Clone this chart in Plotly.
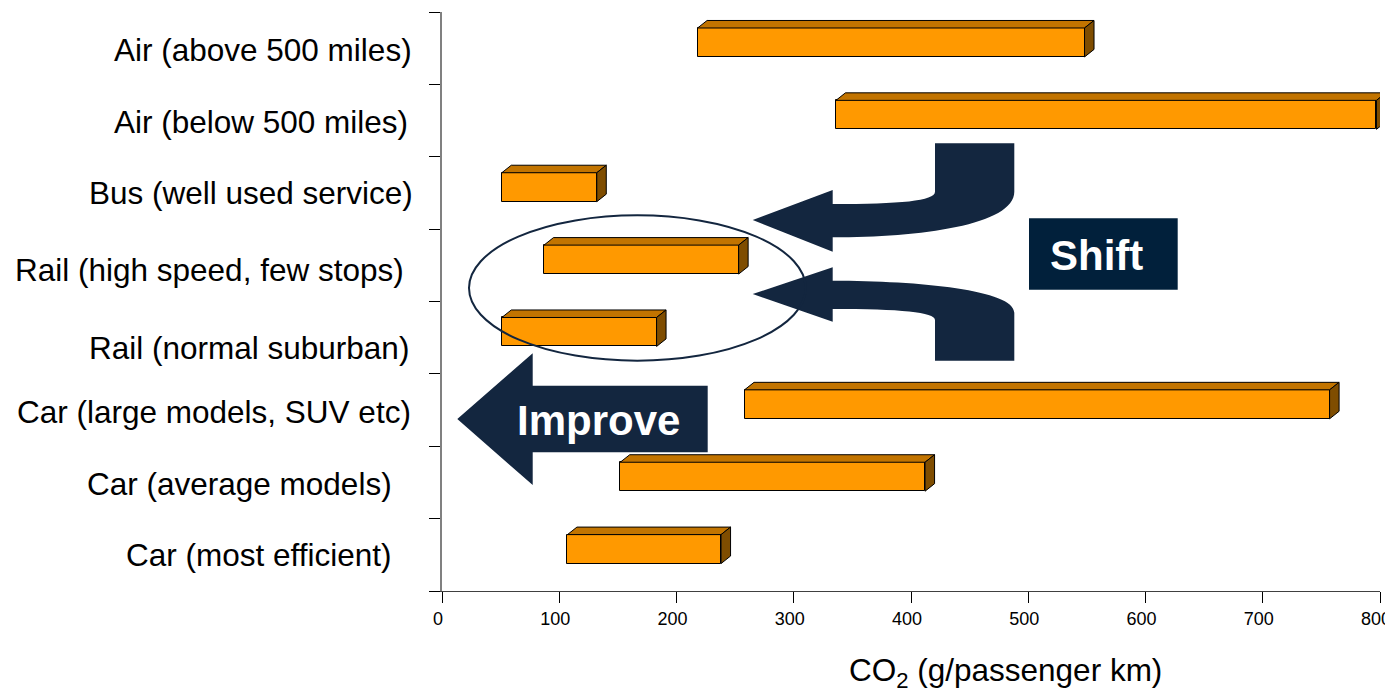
import plotly.graph_objects as go

# ---------------- data ----------------
categories = [
    "Air (above 500 miles)",
    "Air (below 500 miles)",
    "Bus (well used service)",
    "Rail (high speed, few stops)",
    "Rail (normal suburban)",
    "Car (large models, SUV etc)",
    "Car (average models)",
    "Car (most efficient)",
]
co2_low = [218, 336, 51, 87, 51, 258, 152, 107]
co2_high = [548, 797, 132, 253, 183, 757, 412, 238]
x_tick_vals = [0, 100, 200, 300, 400, 500, 600, 700, 800]
x_title = "CO<sub>2</sub> (g/passenger km)"
improve_text = "Improve"
shift_text = "Shift"

# ---------------- layout geometry (page pixels) ----------------
OFF = 8                      # default page body margin
W, H = 1393 - OFF, 692 - OFF
L, R, T, B = 442, 1380, 12, 591
FONT = "Liberation Sans, Arial, sans-serif"
ORANGE, TOPC, SIDEC = "#FF9900", "#C27400", "#7F4D00"
NAVY, BOXNAVY = "#13263F", "#01203B"

n = len(categories)
ypos = [n - 1 - i for i in range(n)]
bar_w = 0.40
bar_off = -0.121
dx = 8.1      # depth in x data units
dy = 0.104    # depth in y data units


def xp(x):
    return (x - L) / (R - L)


def yp(y):
    return (B - y) / (B - T)


def P(x, y):
    return f"{xp(x):.5f},{yp(y):.5f}"


fig = go.Figure()

# front faces
fig.add_trace(go.Bar(
    y=ypos, x=[h - l for l, h in zip(co2_low, co2_high)], base=co2_low,
    orientation="h", width=bar_w, offset=bar_off,
    marker=dict(color=ORANGE, line=dict(color="black", width=1)),
    hoverinfo="skip", showlegend=False,
))

# top faces and side faces
tx, ty, sx, sy = [], [], [], []
for p, lo, hi in zip(ypos, co2_low, co2_high):
    y0 = p + bar_off
    y1 = y0 + bar_w
    tx += [lo, lo + dx, hi + dx, hi, lo, None]
    ty += [y1, y1 + dy, y1 + dy, y1, y1, None]
    sx += [hi, hi, hi + dx, hi + dx, hi, None]
    sy += [y0, y1, y1 + dy, y0 + dy, y0, None]
fig.add_trace(go.Scatter(x=tx, y=ty, mode="lines", fill="toself", fillcolor=TOPC,
                         line=dict(color="black", width=1), hoverinfo="skip", showlegend=False))
fig.add_trace(go.Scatter(x=sx, y=sy, mode="lines", fill="toself", fillcolor=SIDEC,
                         line=dict(color="black", width=1), hoverinfo="skip", showlegend=False))

shapes = []
# improve arrow
improve_path = ("M " + P(457.3, 419) + " L " + P(532.7, 353.3) + " L " + P(532.7, 385.7)
                + " L " + P(707.7, 385.7) + " L " + P(707.7, 452.3) + " L " + P(532.7, 452.3)
                + " L " + P(532.7, 485) + " Z")
shapes.append(dict(type="path", xref="paper", yref="paper", path=improve_path,
                   fillcolor=NAVY, line=dict(width=0), layer="above"))
# upper shift arrow
up_path = ("M " + P(752.7, 220) + " L " + P(832.7, 190) + " L " + P(832.7, 204)
           + " C " + P(900, 204) + " " + P(935, 201) + " " + P(935, 191.7)
           + " L " + P(935, 143.3) + " L " + P(1014.3, 143.3) + " L " + P(1014.3, 191.7)
           + " C " + P(1014.3, 225) + " " + P(920, 237.3) + " " + P(832.7, 237.3)
           + " L " + P(832.7, 251.7) + " Z")
shapes.append(dict(type="path", xref="paper", yref="paper", path=up_path,
                   fillcolor=NAVY, line=dict(width=0), layer="above"))
# lower shift arrow
lo_path = ("M " + P(752.7, 294) + " L " + P(832.7, 267.3) + " L " + P(832.7, 280.7)
           + " C " + P(920, 280.7) + " " + P(1014.3, 290) + " " + P(1014.3, 312.7)
           + " L " + P(1014.3, 360.7) + " L " + P(935, 360.7) + " L " + P(935, 320)
           + " C " + P(935, 312) + " " + P(900, 309) + " " + P(832.7, 309)
           + " L " + P(832.7, 321.7) + " Z")
shapes.append(dict(type="path", xref="paper", yref="paper", path=lo_path,
                   fillcolor=NAVY, line=dict(width=0), layer="above"))
# shift box
shapes.append(dict(type="rect", xref="paper", yref="paper",
                   x0=xp(1029), x1=xp(1177.7), y0=yp(289.7), y1=yp(218.3),
                   fillcolor=BOXNAVY, line=dict(width=0), layer="above"))
# ellipse
shapes.append(dict(type="circle", xref="paper", yref="paper",
                   x0=xp(469), x1=xp(805.7), y0=yp(360.7), y1=yp(215.3),
                   line=dict(color=NAVY, width=2), fillcolor="rgba(0,0,0,0)", layer="above"))

annotations = []
label_cx = [262.5, 261, 250.5, 209.5, 249, 213.5, 239, 259]
label_shift = [-2, -1.4, 0, -4.7, -10.3, -2, -1.6, 0]
for cat, p, cx, sh in zip(categories, ypos, label_cx, label_shift):
    annotations.append(dict(text=cat, xref="paper", yref="y", x=xp(cx), y=p, yshift=sh,
                            xanchor="center", yanchor="middle", showarrow=False,
                            font=dict(family=FONT, size=31.5, color="black")))
annotations.append(dict(text=x_title, xref="paper", yref="paper", x=xp(1005), y=yp(672),
                        xanchor="center", yanchor="middle", showarrow=False,
                        font=dict(family=FONT, size=31.5, color="black")))
annotations.append(dict(text="<b>" + improve_text + "</b>", xref="paper", yref="paper",
                        x=xp(598), y=yp(420), xanchor="center", yanchor="middle", showarrow=False,
                        font=dict(family=FONT, size=42, color="white")))
annotations.append(dict(text="<b>" + shift_text + "</b>", xref="paper", yref="paper",
                        x=xp(1096), y=yp(255), xanchor="center", yanchor="middle", showarrow=False,
                        font=dict(family=FONT, size=42, color="white")))

fig.update_layout(
    width=W, height=H, autosize=False,
    margin=dict(l=L - OFF, r=1393 - R, t=T - OFF, b=692 - B, pad=0, autoexpand=False),
    paper_bgcolor="white", plot_bgcolor="white",
    shapes=shapes, annotations=annotations,
    bargap=0, showlegend=False,
    xaxis=dict(range=[0, 800], tickvals=x_tick_vals, ticks="outside", ticklen=11,
               tickcolor="black", tickwidth=1, showline=True, linecolor="#404040", linewidth=1,
               showgrid=False, zeroline=False, ticklabeloverflow="allow", automargin=False,
               ticklabelshift=-4,
               tickfont=dict(family=FONT, size=18, color="black")),
    yaxis=dict(range=[-0.5, n - 0.5], tickvals=[i - 0.5 for i in range(n + 1)],
               ticks="outside", ticklen=11, tickcolor="black", tickwidth=1, automargin=False,
               showticklabels=False, showline=True, linecolor="#808080", linewidth=2,
               showgrid=False, zeroline=False),
)

fig.write_html("out.html")
